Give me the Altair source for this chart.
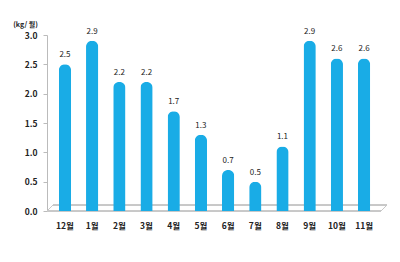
import altair as alt
import pandas as pd

months = ["12월", "1월", "2월", "3월", "4월", "5월", "6월", "7월", "8월", "9월", "10월", "11월"]
values = [2.5, 2.9, 2.2, 2.2, 1.7, 1.3, 0.7, 0.5, 1.1, 2.9, 2.6, 2.6]
y_ticks = [0.0, 0.5, 1.0, 1.5, 2.0, 2.5, 3.0]

df = pd.DataFrame({"month": months, "value": values})
FONT = "Noto Sans CJK KR"

x = alt.X("month:N", sort=months,
          scale=alt.Scale(paddingInner=0.55, paddingOuter=0.435),
          axis=alt.Axis(title=None, labelAngle=0, labelFont=FONT, labelFontSize=8.5,
                        labelFontWeight="bold", labelColor="#222", domain=False,
                        ticks=False, labelPadding=10))
y = alt.Y("value:Q", scale=alt.Scale(domain=[0, 3], nice=False),
          axis=alt.Axis(values=y_ticks, format=".1f", grid=False,
                        labelOverlap=False,
                        labelFont=FONT, labelFontSize=8.5, labelFontWeight="bold",
                        labelColor="#222", domainColor="#bbb", tickColor="#bbb",
                        tickSize=4, labelPadding=6,
                        title="(kg/ 월)", titleAngle=0, titleFont=FONT, titleFontSize=7,
                        titleFontWeight="bold", titleColor="#222", titleAlign="center",
                        titleBaseline="bottom", titleX=-22, titleY=-8))

bars = alt.Chart(df).mark_bar(color="#19ACE6", cornerRadiusTopLeft=6,
                              cornerRadiusTopRight=6).encode(x=x, y=y)
labels = alt.Chart(df).mark_text(dy=-9, font=FONT, fontSize=8, color="#222").encode(
    x=x, y=y, text=alt.Text("value:Q", format=".1f"))

floor_back = alt.Chart(df).mark_rule(color="#c8c8c8").encode(
    x=alt.value(6), x2=alt.value(340), y=alt.value(170), y2=alt.value(170))
floor_left = alt.Chart(df).mark_rule(color="#c8c8c8").encode(
    x=alt.value(0), x2=alt.value(6), y=alt.value(176), y2=alt.value(170))
floor_right = alt.Chart(df).mark_rule(color="#c8c8c8").encode(
    x=alt.value(334), x2=alt.value(340), y=alt.value(176), y2=alt.value(170))
floor_front = alt.Chart(df).mark_rule(color="#c8c8c8").encode(
    x=alt.value(0), x2=alt.value(334), y=alt.value(176), y2=alt.value(176))

chart = alt.layer(floor_back, floor_left, floor_right, floor_front, bars, labels).properties(
    width=335, height=176,
    autosize=alt.AutoSizeParams(type="none"),
    padding={"left": 47, "top": 35, "right": 18, "bottom": 51},
    background="white",
).configure_view(stroke=None)

chart.save("out.html", embed_options={"renderer": "svg", "actions": False})
